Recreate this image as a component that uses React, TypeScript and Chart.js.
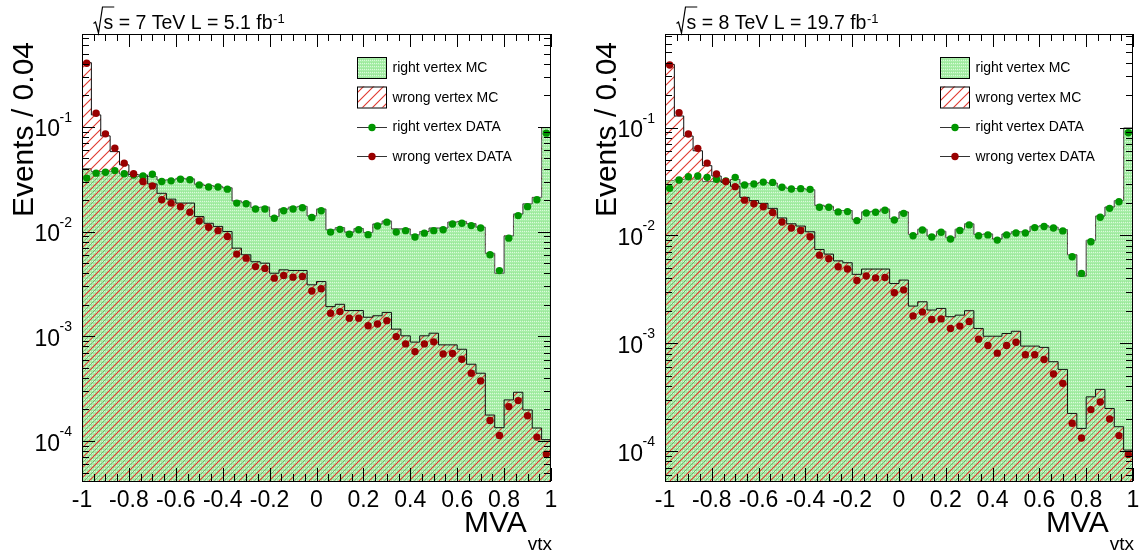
import React, { useEffect, useRef } from "react";
import { Chart, registerables } from "chart.js";

Chart.register(...registerables);

// ---------- data ----------
const binLow = -1;
const binWidth = 0.04;

const xTickValues = [-1, -0.8, -0.6, -0.4, -0.2, 0, 0.2, 0.4, 0.6, 0.8, 1];
const xTickLabels = ["-1", "-0.8", "-0.6", "-0.4", "-0.2", "0", "0.2", "0.4", "0.6", "0.8", "1"];
const yTickExponents = [-1, -2, -3, -4];
const legendLabels = ["right vertex MC", "wrong vertex MC", "right vertex DATA", "wrong vertex DATA"];

// 7 TeV
const rightMC7 = [
  0.0403, 0.0374, 0.0378, 0.0378, 0.0356, 0.034, 0.0338, 0.0335, 0.031, 0.0312,
  0.0322, 0.0318, 0.0283, 0.0275, 0.027, 0.0262, 0.0196, 0.019, 0.017, 0.0171,
  0.0139, 0.0164, 0.0171, 0.0174, 0.0141, 0.0164, 0.0104, 0.0109, 0.00988, 0.0107,
  0.0098, 0.0118, 0.0126, 0.0106, 0.0106, 0.00931, 0.01, 0.0108, 0.0108, 0.0123,
  0.0125, 0.0119, 0.011, 0.0062, 0.004, 0.0091, 0.0147, 0.0184, 0.0212, 0.0985,
];
const wrongMC7 = [
  0.41, 0.13, 0.082, 0.058, 0.0434, 0.035, 0.0346, 0.0285, 0.0232, 0.0204,
  0.0187, 0.0187, 0.0139, 0.012, 0.0112, 0.01, 0.00694, 0.006, 0.00515, 0.00499,
  0.004, 0.00431, 0.00425, 0.00425, 0.0031, 0.00333, 0.00192, 0.00202, 0.00176, 0.00176,
  0.00152, 0.00157, 0.00169, 0.00117, 0.00101, 0.00088, 0.00101, 0.00107, 0.000828, 0.000828,
  0.000752, 0.000541, 0.000444, 0.000177, 0.000134, 0.000247, 0.000292, 0.000198, 0.000133, 0.000103,
];
const rightData7 = [
  0.0324, 0.0361, 0.0369, 0.0382, 0.0356, 0.0346, 0.034, 0.0353, 0.0301, 0.0305,
  0.0316, 0.0312, 0.0279, 0.0266, 0.0266, 0.0254, 0.0187, 0.0184, 0.0164, 0.0164,
  0.0134, 0.0158, 0.0164, 0.0169, 0.0136, 0.0158, 0.00988, 0.0105, 0.00944, 0.0104,
  0.00934, 0.0113, 0.0123, 0.00988, 0.0102, 0.00886, 0.00966, 0.0102, 0.0104, 0.0118,
  0.012, 0.0114, 0.0108, 0.006, 0.00424, 0.00865, 0.0142, 0.0173, 0.0201, 0.087,
];
const wrongData7 = [
  0.405, 0.135, 0.0857, 0.0626, 0.045, 0.0356, 0.0301, 0.0273, 0.0201, 0.0187,
  0.0173, 0.0153, 0.0126, 0.011, 0.0102, 0.00896, 0.00609, 0.00557, 0.00463, 0.00445,
  0.00359, 0.0038, 0.00367, 0.00372, 0.00271, 0.00284, 0.00166, 0.00172, 0.00149, 0.00149,
  0.00126, 0.00131, 0.00141, 0.000993, 0.000846, 0.000714, 0.000846, 0.000885, 0.000679, 0.000685,
  0.000604, 0.000444, 0.000375, 0.000157, 0.000113, 0.000213, 0.000243, 0.000174, 0.000109, 0.000075,
];

// 8 TeV
const rightMC8 = [
  0.0326, 0.033, 0.0335, 0.0335, 0.0318, 0.0318, 0.0315, 0.033, 0.03, 0.0302,
  0.031, 0.0305, 0.028, 0.0272, 0.0272, 0.0265, 0.019, 0.0186, 0.017, 0.017,
  0.014, 0.0165, 0.0167, 0.0175, 0.0143, 0.0165, 0.0102, 0.0114, 0.00985, 0.0109,
  0.0095, 0.0114, 0.0128, 0.0102, 0.0103, 0.00925, 0.0103, 0.0108, 0.0108, 0.0121,
  0.0123, 0.0119, 0.0113, 0.0066, 0.0042, 0.009, 0.0151, 0.0183, 0.021, 0.099,
];
const wrongMC8 = [
  0.385, 0.128, 0.0834, 0.0609, 0.0443, 0.0355, 0.031, 0.0285, 0.0225, 0.021,
  0.0198, 0.0178, 0.0145, 0.0128, 0.0122, 0.0108, 0.0074, 0.0067, 0.0058, 0.00557,
  0.00435, 0.00487, 0.00487, 0.00487, 0.00358, 0.00385, 0.00221, 0.00242, 0.00203, 0.0021,
  0.00176, 0.00182, 0.002, 0.00137, 0.00116, 0.00116, 0.00123, 0.00129, 0.00094, 0.00094,
  0.000914, 0.000673, 0.000571, 0.000223, 0.000162, 0.000318, 0.000373, 0.000248, 0.000168, 0.000102,
];
const rightData8 = [
  0.0273, 0.0326, 0.035, 0.0355, 0.0345, 0.0331, 0.0319, 0.0345, 0.0293, 0.0299,
  0.0312, 0.031, 0.0279, 0.0269, 0.0271, 0.0267, 0.0182, 0.0182, 0.0165, 0.0166,
  0.0137, 0.0161, 0.0164, 0.0171, 0.0139, 0.016, 0.00991, 0.0112, 0.00967, 0.0107,
  0.00925, 0.0111, 0.0125, 0.00991, 0.0101, 0.00904, 0.0101, 0.0105, 0.0105, 0.0118,
  0.0121, 0.0117, 0.011, 0.00634, 0.00444, 0.00872, 0.0147, 0.0178, 0.0205, 0.0895,
];
const wrongData8 = [
  0.38, 0.137, 0.0871, 0.0641, 0.0468, 0.0371, 0.0316, 0.0283, 0.0212, 0.0196,
  0.0184, 0.0163, 0.0133, 0.0117, 0.0111, 0.0097, 0.00655, 0.00608, 0.00512, 0.00488,
  0.00381, 0.0042, 0.00403, 0.00407, 0.00294, 0.00312, 0.00179, 0.00195, 0.00166, 0.00168,
  0.00137, 0.00144, 0.00159, 0.00109, 0.000953, 0.000808, 0.000953, 0.00102, 0.000781, 0.000781,
  0.000705, 0.000517, 0.000424, 0.000181, 0.000132, 0.000242, 0.000285, 0.000198, 0.000139, 0.000093,
];

// ---------- styling ----------
const FONT = '"Liberation Sans", Arial, Helvetica, sans-serif';
const GREEN_DOT = "#009600";
const RED_DOT = "#990000";

type Panel = {
  energy: string;
  lumi: string;
  yMin: number;
  yMax: number;
  rightMC: number[];
  wrongMC: number[];
  rightData: number[];
  wrongData: number[];
  padLeft: number;
  padRight: number;
};

const panel7: Panel = {
  energy: "7", lumi: "5.1", yMin: 4.15e-5, yMax: 0.77,
  rightMC: rightMC7, wrongMC: wrongMC7, rightData: rightData7, wrongData: wrongData7,
  padLeft: 82, padRight: 20,
};
const panel8: Panel = {
  energy: "8", lumi: "19.7", yMin: 5.27e-5, yMax: 0.737,
  rightMC: rightMC8, wrongMC: wrongMC8, rightData: rightData8, wrongData: wrongData8,
  padLeft: 94, padRight: 9,
};

function edgeSeries(values: number[]) {
  const pts = values.map((v, i) => ({ x: binLow + i * binWidth, y: v }));
  pts.push({ x: binLow + values.length * binWidth, y: values[values.length - 1] });
  return pts;
}
function centerSeries(values: number[]) {
  return values.map((v, i) => ({ x: binLow + (i + 0.5) * binWidth, y: v }));
}

function greenPattern(ctx: CanvasRenderingContext2D) {
  const c = document.createElement("canvas");
  c.width = 4; c.height = 3;
  const g = c.getContext("2d")!;
  g.fillStyle = "rgb(168,238,168)";
  g.fillRect(0, 0, 4, 3);
  g.fillStyle = "rgb(218,250,218)";
  g.fillRect(0, 0, 1, 1);
  g.fillRect(2, 0, 1, 1);
  g.fillStyle = "rgb(152,230,152)";
  g.fillRect(1, 2, 1, 1);
  g.fillRect(3, 2, 1, 1);
  return ctx.createPattern(c, "repeat")!;
}

function hatchPattern(ctx: CanvasRenderingContext2D, mixed: boolean) {
  const s = 10;
  const c = document.createElement("canvas");
  c.width = s; c.height = s;
  const g = c.getContext("2d")!;
  if (!mixed) {
    g.fillStyle = "#ffffff";
    g.fillRect(0, 0, s, s);
  }
  const line = (k: number, color: string, w: number) => {
    g.strokeStyle = color;
    g.lineWidth = w;
    g.beginPath();
    g.moveTo(k - s - 2, s + 2);
    g.lineTo(s + 2, k - s - 2);
    g.stroke();
  };
  for (const k of [0, s, 2 * s]) line(k, "#e0362c", 1.1);
  if (mixed) for (const k of [s / 2, s * 1.5]) line(k, "rgba(70,70,30,0.45)", 0.9);
  return ctx.createPattern(c, "repeat")!;
}

function seg2(ctx: CanvasRenderingContext2D, x1: number, y1: number, x2: number, y2: number) {
  ctx.beginPath();
  ctx.moveTo(x1, y1);
  ctx.lineTo(x2, y2);
  ctx.stroke();
}

function makePlugin(p: Panel, pats: { green: CanvasPattern; white: CanvasPattern }) {
  return {
    id: "rootStyle" + p.energy,
    afterDatasetsDraw(chart: any) {
      const { ctx, chartArea: a, scales } = chart;
      const xs = scales.x;
      const ys = scales.y;
      ctx.save();
      ctx.strokeStyle = "#000";
      ctx.lineWidth = 1;
      // x ticks (major every 0.2, minor every 0.05)
      for (let k = 0; k <= 40; k++) {
        const v = -1 + k * 0.05;
        const px = Math.round(xs.getPixelForValue(v)) + 0.5;
        const len = k % 4 === 0 ? 13 : 7;
        seg2(ctx, px, a.bottom, px, a.bottom - len);
        seg2(ctx, px, a.top, px, a.top + len);
      }
      // y ticks (log)
      for (let e = -6; e <= 0; e++) {
        for (let m = 1; m <= 9; m++) {
          const v = m * Math.pow(10, e);
          if (v < ys.min || v > ys.max) continue;
          const py = Math.round(ys.getPixelForValue(v)) + 0.5;
          const len = m === 1 ? 13 : 7;
          seg2(ctx, a.left, py, a.left + len, py);
          seg2(ctx, a.right, py, a.right - len, py);
        }
      }
      // frame
      ctx.strokeRect(a.left + 0.5, a.top + 0.5, a.right - a.left - 1, a.bottom - a.top);
      ctx.restore();
    },
    afterDraw(chart: any) {
      const { ctx, chartArea: a, scales } = chart;
      const xs = scales.x;
      const ys = scales.y;
      ctx.save();
      ctx.fillStyle = "#000";
      ctx.strokeStyle = "#000";
      // x tick labels
      ctx.font = `23px ${FONT}`;
      ctx.textAlign = "center";
      ctx.textBaseline = "alphabetic";
      xTickValues.forEach((v, i) => {
        ctx.fillText(xTickLabels[i], xs.getPixelForValue(v), a.bottom + 26);
      });
      // y tick labels 10^e
      yTickExponents.forEach((e) => {
        const py = ys.getPixelForValue(Math.pow(10, e));
        ctx.font = `23px ${FONT}`;
        ctx.textAlign = "right";
        ctx.fillText("10", a.left - 22, py + 9.5);
        ctx.font = `14px ${FONT}`;
        ctx.textAlign = "left";
        ctx.fillText(String(e), a.left - 22.5, py - 5);
      });
      // y axis title
      ctx.save();
      ctx.translate(a.left - 49.5, a.top + 8);
      ctx.rotate(-Math.PI / 2);
      ctx.font = `30px ${FONT}`;
      ctx.textAlign = "right";
      ctx.fillText("Events / 0.04", 0, 0);
      ctx.restore();
      // x axis title MVA_vtx
      ctx.font = `19px ${FONT}`;
      ctx.textAlign = "right";
      ctx.fillText("vtx", a.right + 1, a.bottom + 69);
      const subW = ctx.measureText("vtx").width;
      ctx.font = `30px ${FONT}`;
      ctx.fillText("MVA", a.right + 1 - subW - 1, a.bottom + 51);
      // title with radical
      const x0 = a.left + 11.5;
      ctx.font = `19.5px ${FONT}`;
      const sW = ctx.measureText("s").width;
      ctx.lineWidth = 1.2;
      ctx.beginPath();
      ctx.moveTo(x0, 23.5);
      ctx.lineTo(x0 + 2, 22);
      ctx.lineTo(x0 + 5, 33);
      ctx.lineTo(x0 + 9, 7);
      ctx.lineTo(x0 + 10 + sW + 1, 7);
      ctx.stroke();
      ctx.textAlign = "left";
      const main = `s = ${p.energy} TeV L = ${p.lumi} fb`;
      ctx.fillText(main, x0 + 10, 28.5);
      const mw = ctx.measureText(main).width;
      ctx.font = `13px ${FONT}`;
      ctx.fillText("-1", x0 + 10 + mw + 0.5, 22.5);
      // legend
      const lx = a.left + 275;
      const lw = 30;
      const tx = a.left + 310.5;
      const rows = [a.top + 33.5, a.top + 63, a.top + 92.5, a.top + 122];
      ctx.lineWidth = 1;
      ctx.fillStyle = pats.green;
      ctx.fillRect(lx, rows[0] - 10.5, lw, 21);
      ctx.strokeRect(lx + 0.5, rows[0] - 10, lw - 1, 21);
      ctx.fillStyle = pats.white;
      ctx.fillRect(lx, rows[1] - 10.5, lw, 21);
      ctx.strokeRect(lx + 0.5, rows[1] - 10, lw - 1, 21);
      [GREEN_DOT, RED_DOT].forEach((col, i) => {
        const ry = Math.round(rows[2 + i]) + 0.5;
        ctx.strokeStyle = "#333";
        seg2(ctx, lx, ry, lx + lw, ry);
        ctx.fillStyle = col;
        ctx.beginPath();
        ctx.arc(lx + lw / 2, ry, 3.7, 0, Math.PI * 2);
        ctx.fill();
      });
      ctx.fillStyle = "#000";
      ctx.font = `14px ${FONT}`;
      ctx.textAlign = "left";
      ctx.textBaseline = "middle";
      legendLabels.forEach((t, i) => ctx.fillText(t, tx, rows[i] + 1));
      ctx.restore();
    },
  };
}

function makeChart(canvas: HTMLCanvasElement, p: Panel) {
  const ctx = canvas.getContext("2d")!;
  const green = greenPattern(ctx);
  const mixed = hatchPattern(ctx, true);
  const white = hatchPattern(ctx, false);
  const transparent = "rgba(0,0,0,0)";
  return new Chart(canvas, {
    type: "line",
    data: {
      datasets: [
        {
          label: legendLabels[0], data: edgeSeries(p.rightMC), stepped: "before",
          borderColor: "#2a2a2a", borderWidth: 1, backgroundColor: green, fill: "start",
          pointRadius: 0, order: 5,
        },
        {
          label: legendLabels[1], data: edgeSeries(p.wrongMC), stepped: "before",
          borderColor: transparent, borderWidth: 0, backgroundColor: mixed, fill: "start",
          pointRadius: 0, order: 4,
        },
        {
          label: legendLabels[1] + " (above)", data: edgeSeries(p.wrongMC), stepped: "before",
          borderColor: "#111", borderWidth: 1,
          fill: { target: 0, above: white, below: transparent },
          pointRadius: 0, order: 3,
        },
        {
          label: legendLabels[2], data: centerSeries(p.rightData), showLine: false,
          pointRadius: 3.7, pointBackgroundColor: GREEN_DOT, pointBorderWidth: 0,
          borderColor: GREEN_DOT, order: 2,
        },
        {
          label: legendLabels[3], data: centerSeries(p.wrongData), showLine: false,
          pointRadius: 3.7, pointBackgroundColor: RED_DOT, pointBorderWidth: 0,
          borderColor: RED_DOT, order: 1,
        },
      ] as any,
    },
    options: {
      responsive: false,
      animation: false,
      devicePixelRatio: 1,
      events: [],
      layout: { padding: { left: p.padLeft, right: p.padRight, top: 34, bottom: 75 } },
      plugins: { legend: { display: false }, tooltip: { enabled: false } },
      scales: {
        x: { type: "linear", min: -1, max: 1, display: false },
        y: { type: "logarithmic", min: p.yMin, max: p.yMax, display: false },
      },
      elements: { line: { tension: 0 } },
    } as any,
    plugins: [makePlugin(p, { green, white })],
  });
}

export default function App() {
  const leftRef = useRef<HTMLCanvasElement>(null);
  const rightRef = useRef<HTMLCanvasElement>(null);
  useEffect(() => {
    const charts = [makeChart(leftRef.current!, panel7), makeChart(rightRef.current!, panel8)];
    return () => charts.forEach((c) => c.destroy());
  }, []);
  return (
    <div style={{ position: "absolute", left: 0, top: 0, width: 1142, height: 556, background: "#fff" }}>
      <canvas ref={leftRef} width={571} height={556}
        style={{ position: "absolute", left: 0, top: 0, width: 571, height: 556 }} />
      <canvas ref={rightRef} width={571} height={556}
        style={{ position: "absolute", left: 571, top: 0, width: 571, height: 556 }} />
    </div>
  );
}
